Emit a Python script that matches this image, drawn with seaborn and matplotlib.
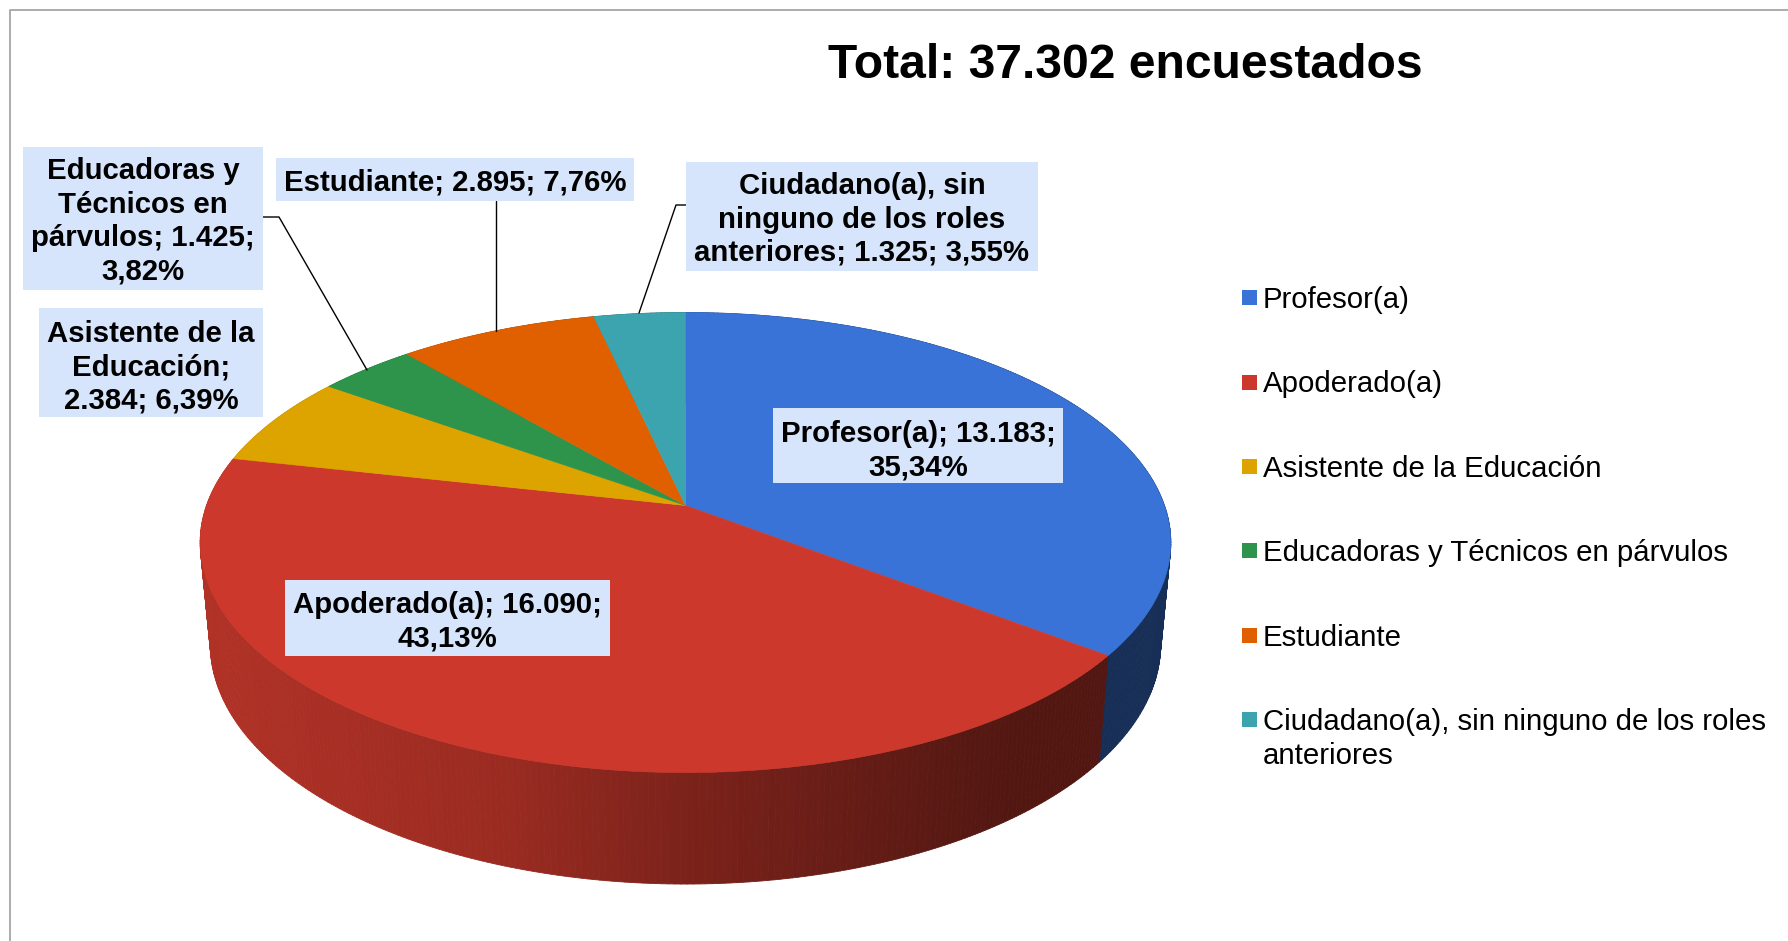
import numpy as np
import matplotlib
matplotlib.use("Agg")
import matplotlib.pyplot as plt
import seaborn as sns
from matplotlib.collections import PolyCollection
from matplotlib.patches import Rectangle
from matplotlib.transforms import Transform

roles = ["Profesor(a)", "Apoderado(a)", "Asistente de la Educación",
         "Educadoras y Técnicos en párvulos", "Estudiante",
         "Ciudadano(a), sin ninguno de los roles\nanteriores"]
counts = [13183, 16090, 2384, 1425, 2895, 1325]
label_texts = ["Profesor(a); 13.183;\n35,34%",
               "Apoderado(a); 16.090;\n43,13%",
               "Asistente de la\nEducación;\n2.384; 6,39%",
               "Educadoras y\nTécnicos en\npárvulos; 1.425;\n3,82%",
               "Estudiante; 2.895; 7,76%",
               "Ciudadano(a), sin\nninguno de los roles\nanteriores; 1.325; 3,55%"]
hex_colors = ["#3973D7", "#CC392C", "#DDA400", "#2E944B", "#E06000", "#3CA4AF"]

sns.set_theme(style="white")
plt.rcParams["font.family"] = ["Liberation Sans", "DejaVu Sans"]
palette = sns.color_palette(hex_colors)

W, H = 1788, 941
BOX = "#D6E5FB"


# unit disc -> picture, a tilted plane seen in perspective
def project(x, y, cx=685.5, cy=542.5, c=479, a=230, b=37, p=0.161):
    d = 1 + p * y
    return cx + x * c / d, cy - (a * y + b) / d


class Tilt(Transform):
    input_dims = 2
    output_dims = 2
    is_affine = False

    def transform_non_affine(self, values):
        xs, ys = project(values[:, 0], values[:, 1])
        return np.column_stack([xs, ys])


fig = plt.figure(figsize=(W / 100, H / 100), dpi=100)
ax = fig.add_axes([0, 0, 1, 1])

wedges = ax.pie(counts, colors=palette, startangle=90, counterclock=False,
                wedgeprops=dict(linewidth=0.4))[0]
ax.set_aspect("auto")
ax.set_xlim(0, W)
ax.set_ylim(H, 0)
tilt = Tilt() + ax.transData
for w, col in zip(wedges, palette):
    w.set_transform(tilt)
    w.set_edgecolor(col)
    w.set_zorder(3)

# side wall, shaded left to right
edges = np.cumsum([0] + counts) / sum(counts) * 2 * np.pi
polys, cols = [], []
for i, col in enumerate(palette):
    th = np.linspace(edges[i], edges[i + 1], max(3, int((edges[i + 1] - edges[i]) * 90)))
    tx, ty = project(np.sin(th), np.cos(th))
    bx, by = project(np.sin(th), np.cos(th), cy=644, c=469, a=240, b=38.6)
    for j in range(len(th) - 1):
        polys.append([(tx[j], ty[j]), (tx[j + 1], ty[j + 1]), (bx[j + 1], by[j + 1]), (bx[j], by[j])])
        shade = np.interp(tx[j], [199, 500, 680, 1000, 1172], [0.87, 0.76, 0.61, 0.41, 0.40])
        cols.append(tuple(np.array(col) * shade))
ax.add_collection(PolyCollection(polys, facecolors=cols, edgecolors=cols, linewidths=0.6, zorder=2))

# frame of the original slide
ax.plot([9.5, 9.5, W], [H, 10, 10], color="#A6A6A6", lw=1.3, zorder=1)

ax.text(1125.5, 65.5, "Total: 37.302 encuestados", fontsize=34.6, fontweight="bold",
        ha="center", va="center", color="black")

# leader lines
ax.plot([263, 279, 367], [217, 217, 370], color="black", lw=1, zorder=4)
ax.plot([496, 496], [201, 331], color="black", lw=1, zorder=4)
ax.plot([686, 676, 639], [205, 205, 313], color="black", lw=1, zorder=4)

# data labels
boxes = [(773, 408, 1063, 483), (285, 580, 610, 656), (39, 308, 263, 417),
         (23, 147, 263, 290), (276, 158, 634, 201), (686, 162, 1038, 271)]
text_dy = [5, 3.5, 4.5, 3, 2.5, 3]
for txt, (x0, y0, x1, y1), dy in zip(label_texts, boxes, text_dy):
    ax.add_patch(Rectangle((x0, y0), x1 - x0, y1 - y0, facecolor=BOX, edgecolor="none", zorder=5))
    ax.text((x0 + x1) / 2, (y0 + y1) / 2 + dy, txt, fontsize=21.2, fontweight="bold", ha="center",
            va="center", linespacing=1.245, color="black", zorder=6)

# legend
legend_y = [297.6, 382, 466.4, 550.8, 635, 719.5]
for name, col, y in zip(roles, palette, legend_y):
    ax.add_patch(Rectangle((1242, y - 7.5), 15, 15, facecolor=col, edgecolor="none"))
    ax.text(1263, y - 11.5, name, fontsize=21.2, ha="left", va="top", linespacing=1.26, color="black")

fig.savefig("out.png", dpi=100)
